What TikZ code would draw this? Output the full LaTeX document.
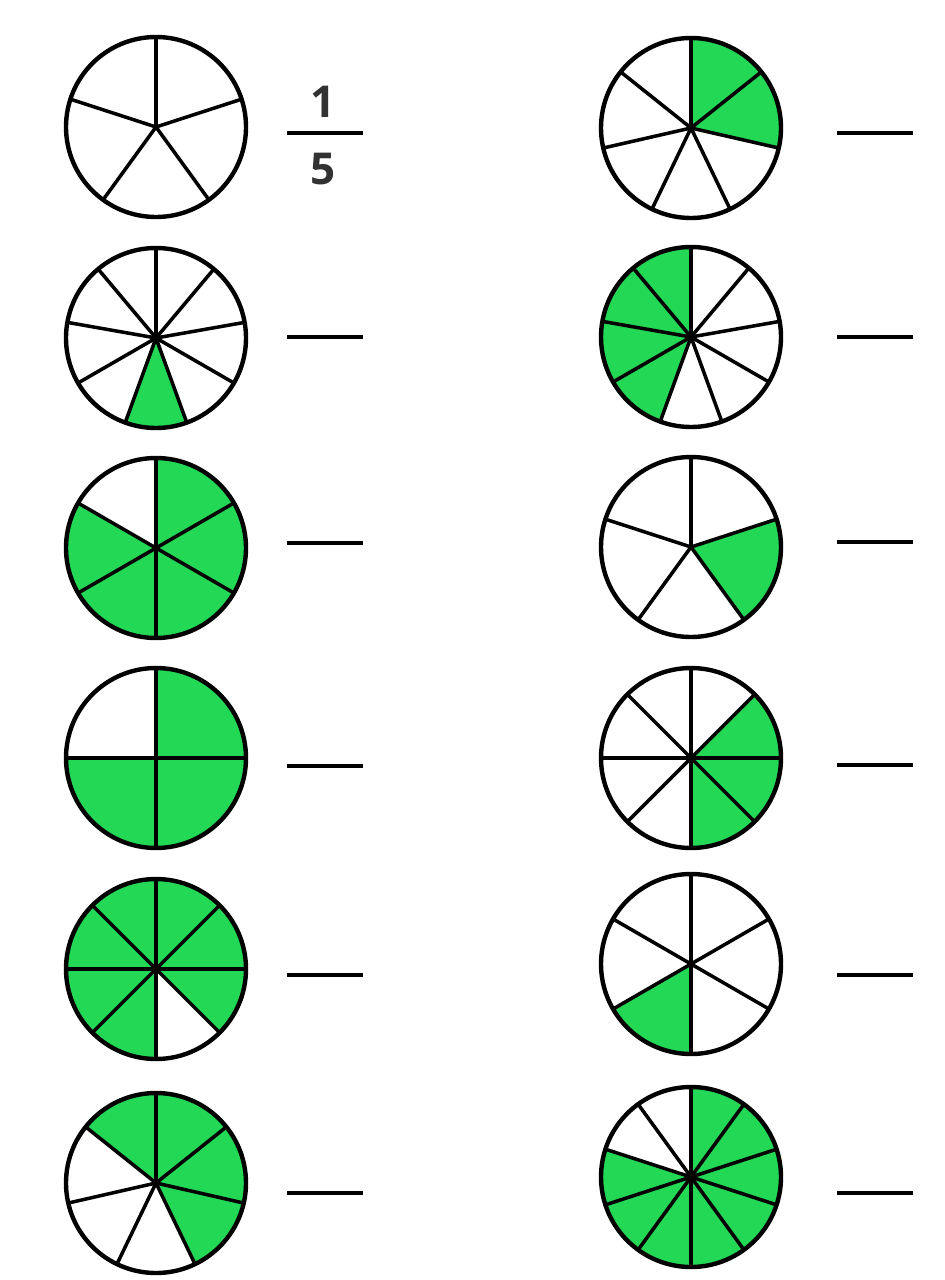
\documentclass[tikz,border=0pt]{standalone}
\usepackage{fontspec}
\setsansfont{Open Sans}
\definecolor{PieGreen}{RGB}{34,216,84}
\definecolor{NumGray}{RGB}{50,50,50}

\begin{document}
\begin{tikzpicture}[
    x=0.02cm, y=0.02cm,
    pierim/.style={draw=black, line width=2.5pt},
    spoke/.style={draw=black, line width=2pt},
    share/.style={fill=PieGreen},
    blank/.style={draw=black, line width=2.8pt},
    num/.style={
        font=\sffamily\bfseries\fontsize{25}{25}\selectfont,
        text=NumGray,
        inner sep=0pt
    }
]
\useasboundingbox[fill=white] (0,0) rectangle (945,-1280);

% pies: centre x / centre y / parts / first green part / green parts / answer line
\foreach \cx/\cy/\n/\s/\k/\lx/\ly [count=\i] in {
    156/-127/5/0/0/287/-133,   691/-128/7/0/2/837/-133,
    156/-338/9/4/1/287/-337,   691/-337/9/5/4/837/-337,
    156/-548/6/0/5/287/-543,   691/-547/5/1/1/837/-542,
    156/-758/4/0/3/287/-766,   691/-758/8/1/3/837/-765,
    156/-969/8/4/7/287/-975,   691/-964/6/3/1/837/-975,
    156/-1183/7/6/4/287/-1193, 691/-1177/10/0/8/837/-1193}
{
    \coordinate (c\i) at (\cx,\cy);
    \coordinate (l\i) at (\lx,\ly);
    \pgfmathsetmacro\d{360/\n}
    \pgfmathsetmacro\a{90-\s*\d}
    \pgfmathsetmacro\b{\a-\k*\d}
    % green share
    \fill[share] (c\i) -- ++(\a:90) arc[start angle=\a, end angle=\b, radius=90] -- cycle;
    % spokes and rim
    \foreach \j in {1,...,\n}
        \draw[spoke] (c\i) -- ++({90-(\j-1)*\d}:90);
    \ifnum\n>6 \fill (c\i) circle[radius=3.5]; \fi
    \draw[pierim] (c\i) circle[radius=90];
    % answer line
    \draw[blank] (l\i) -- ++(76,0);
}

% worked example
\node[num] (numer) at (323,-102) {1};
\node[num] (denom) at (323,-169) {5};

\end{tikzpicture}
\end{document}
